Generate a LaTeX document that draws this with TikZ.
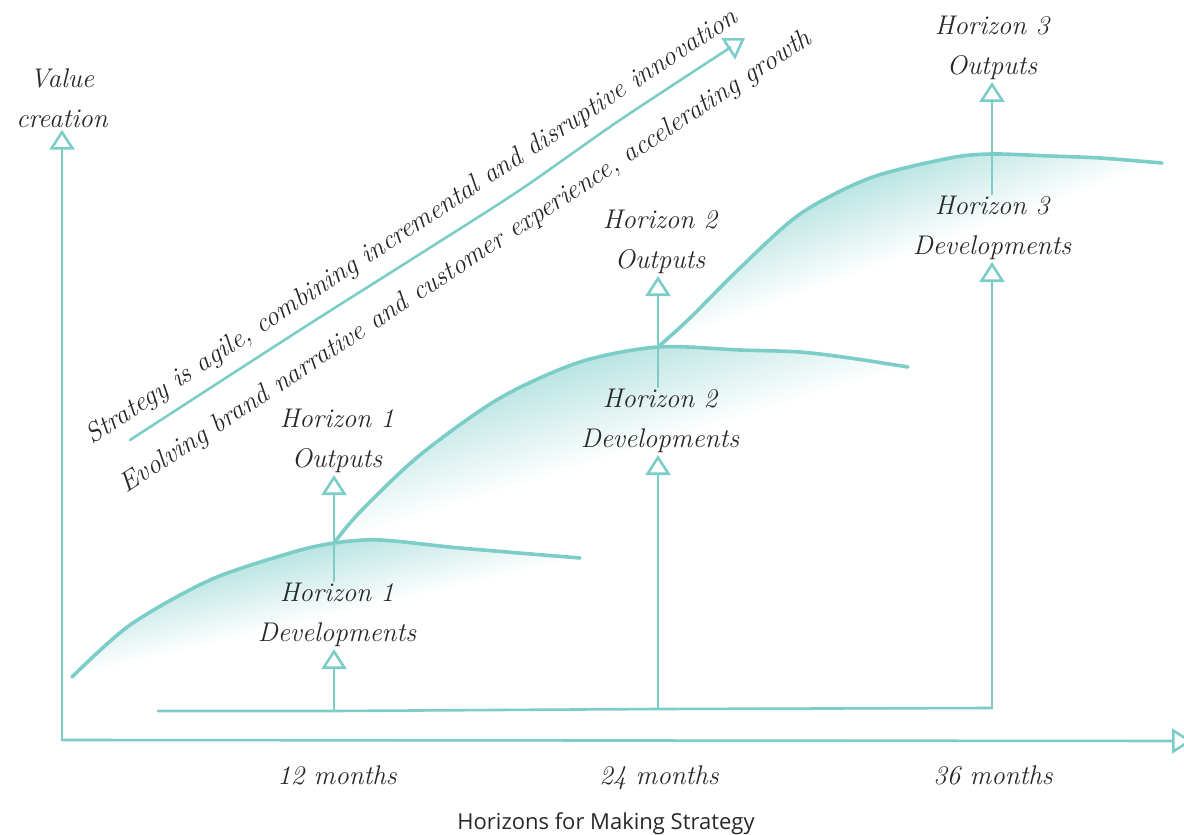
\documentclass[tikz,border=0pt]{standalone}
\usepackage{fontspec}
\usetikzlibrary{arrows.meta}
\newfontfamily\capfont{Open Sans}
\definecolor{tealline}{RGB}{124,205,200}
\definecolor{ink}{RGB}{40,40,40}
\begin{document}
\begin{tikzpicture}[x=1pt,y=-1pt,
  axis/.style={draw=tealline, line width=2.6pt, line cap=round, line join=round},
  curve/.style={draw=tealline, line width=3.6pt, line cap=round, line join=round},
  tip/.style={-{Triangle[open,width=25pt,length=20pt]}},
  hand/.style={text=ink, font=\fontsize{27}{40}\selectfont\itshape, align=center, inner sep=2pt},
  slant/.style={text=ink, font=\fontsize{27.3}{30}\selectfont\itshape, inner sep=0pt, anchor=base},
  glow/.style={top color=tealline!55, bottom color=white},
]
\useasboundingbox (0,0) rectangle (1184,835);

% each growth curve: a fill that fades from the curve down to its chord
\def\curveA{(72,677) (130,625) (210,580) (290,553) (334,543) (380,540) (460,548) (580,558)}
\def\curveB{(334,543) (360,512) (420,455) (500,398) (580,362) (658,347) (740,350) (800,352) (850,358) (908,367)}
\def\curveC{(658,347) (690,318) (740,268) (800,214) (870,178) (950,158) (992,154) (1050,156) (1100,158) (1162,163)}

\begin{scope}
  \clip plot[smooth] coordinates {\curveA} -- cycle;
  \begin{scope}[transform canvas={shift={(72,677)}, rotate=13.18}]
    \shade[glow] (-30,0) rectangle (552,-74);
  \end{scope}
\end{scope}
\begin{scope}
  \clip plot[smooth] coordinates {\curveB} -- cycle;
  \begin{scope}[transform canvas={shift={(334,543)}, rotate=17.05}]
    \shade[glow] (-30,0) rectangle (630,-104);
  \end{scope}
\end{scope}
\begin{scope}
  \clip plot[smooth] coordinates {\curveC} -- cycle;
  \begin{scope}[transform canvas={shift={(658,347)}, rotate=20.06}]
    \shade[glow] (-30,0) rectangle (566,-90);
  \end{scope}
\end{scope}

% growth curves
\draw[curve] plot[smooth] coordinates {\curveA};
\draw[curve] plot[smooth] coordinates {\curveB};
\draw[curve] plot[smooth] coordinates {\curveC};

% axes
\coordinate (origin) at (62,740);
\coordinate (xend) at (1192,741);
\coordinate (bstart) at (158,711);
\coordinate (b1) at (334,711);
\coordinate (b2) at (658,709);
\coordinate (b3) at (992,708);

\node[hand] (vc) at (62,98) {Value\\creation};
\draw[axis,tip] (origin) -- (origin |- vc.south);
\draw[axis,tip] (origin) -- (xend);

% common base line feeding the three horizons
\draw[axis] (bstart) -- (b1) -- (b2) -- (b3);

% horizon labels
\node[hand] (d1) at (337,615) {Horizon 1\\Developments};
\node[hand] (o1) at (337,441) {Horizon 1\\Outputs};
\node[hand] (d2) at (660,421) {Horizon 2\\Developments};
\node[hand] (o2) at (660,242) {Horizon 2\\Outputs};
\node[hand] (d3) at (992,228) {Horizon 3\\Developments};
\node[hand] (o3) at (992,48) {Horizon 3\\Outputs};

\draw[axis,tip] (b1) -- (b1 |- d1.south);
\draw[axis,tip] (b1 |- d1.north) -- (b1 |- o1.south);
\draw[axis,tip] (b2) -- (b2 |- d2.south);
\draw[axis,tip] (b2 |- d2.north) -- (b2 |- o2.south);
\draw[axis,tip] (b3) -- (b3 |- d3.south);
\draw[axis,tip] (b3 |- d3.north) -- (b3 |- o3.south);

% strategy arrow with its two captions
\coordinate (sa) at (130,440);
\coordinate (sb) at (745,38);
\draw[axis,tip] plot[smooth] coordinates {(sa) (300,330) (420,254) (520,190) (620,120) (sb)};
\node[slant, rotate=33.2] (t1) at (416,233) {Strategy is agile, combining incremental and disruptive innovation};
\node[slant, rotate=33.3] (t2) at (470,268) {Evolving brand narrative and customer experience, accelerating growth};

% time scale
\node[hand, anchor=base] (m1) at (337,784) {12 months};
\node[hand, anchor=base] (m2) at (659,784) {24 months};
\node[hand, anchor=base] (m3) at (993,784) {36 months};

\node[text=ink, font=\capfont\fontsize{22}{26}\selectfont, anchor=base] (cap) at (606,829) {Horizons for Making Strategy};
\end{tikzpicture}
\end{document}
